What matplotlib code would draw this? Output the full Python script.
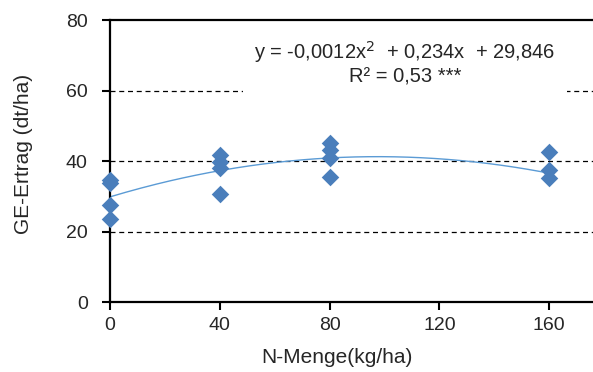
import matplotlib.pyplot as plt
import numpy as np

plt.rcParams['font.family'] = ['Liberation Sans', 'DejaVu Sans']

# Messwerte
n_menge = [0, 0, 0, 0, 40, 40, 40, 40, 80, 80, 80, 80, 160, 160, 160]
ertrag = [34.5, 33.8, 27.4, 23.7, 41.6, 39.8, 37.9, 30.8,
          45.0, 43.1, 40.8, 35.4, 42.5, 37.4, 35.1]

# Regressionskoeffizienten (quadratisch)
coef = [-0.0012, 0.234, 29.846]
x_ticks = [0, 40, 80, 120, 160]
y_ticks = [0, 20, 40, 60, 80]

txt = '#262626'
fig = plt.figure(figsize=(5.93, 3.72), dpi=100)
ax = fig.add_axes([0.1855, 0.188, 0.8145, 0.758])

for yv in y_ticks[1:-1]:
    ax.axhline(yv, color='black', lw=0.9, ls=(0, (4, 3)), zorder=1)

xs = np.linspace(0, 160, 200)
ax.plot(xs, np.polyval(coef, xs), color='#5B9BD5', lw=1.0, zorder=2)
ax.scatter(n_menge, ertrag, marker='D', s=80, color='#4A7EBB', zorder=3,
           linewidths=0, clip_on=False)

ax.set_xlim(0, 176)
ax.set_ylim(0, 80)
ax.set_xticks(x_ticks)
ax.set_yticks(y_ticks)
ax.tick_params(direction='out', length=6, width=1.5, labelsize=14, colors='black', labelcolor=txt)
ax.tick_params(axis='y', pad=10)
ax.tick_params(axis='x', pad=5)
for side in ['top', 'left', 'bottom']:
    ax.spines[side].set_linewidth(1.6)
ax.spines['right'].set_visible(False)

ax.set_xlabel('N-Menge(kg/ha)', fontsize=15, color=txt, va='center')
ax.set_ylabel('GE-Ertrag (dt/ha)', fontsize=15, color=txt, va='center')
ax.xaxis.set_label_coords(0.47, -0.195)
ax.yaxis.set_label_coords(-0.18, 0.525)

ax.text(107.5, 67.8, 'y = -0,0012x$^2$  + 0,234x  + 29,846\nR² = 0,53 ***',
        ha='center', va='center', fontsize=14.5, color=txt, linespacing=1.15,
        bbox=dict(facecolor='white', edgecolor='none', pad=8), zorder=4)

fig.savefig('out.png', dpi=100)
